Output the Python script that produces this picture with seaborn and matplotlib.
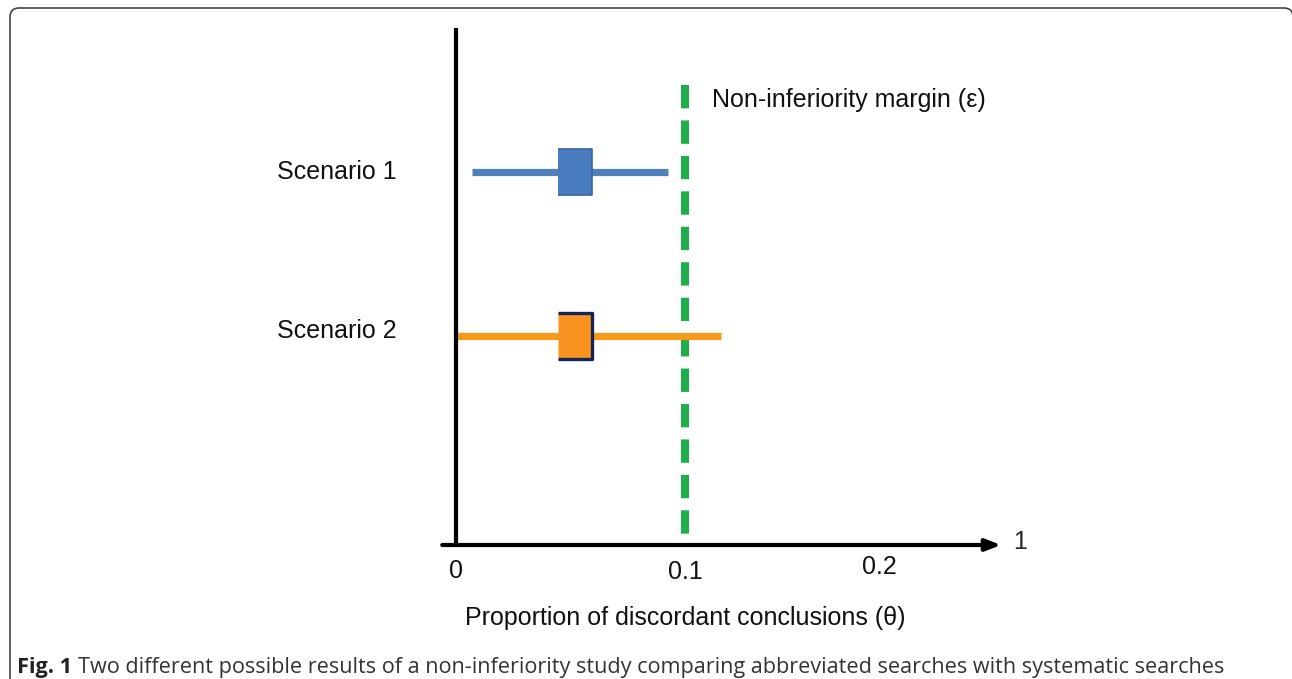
import numpy as np
import pandas as pd
import matplotlib
matplotlib.use("Agg")
import matplotlib.pyplot as plt
from matplotlib.patches import FancyBboxPatch
from matplotlib.transforms import IdentityTransform
import seaborn as sns

# data
scenarios = ["Scenario 1", "Scenario 2"]
estimates = [0.052, 0.052]
lower_ci = [0.007, -0.001]
upper_ci = [0.0926, 0.1157]
margin = 0.1
tick_pos = [0, 0.1, 0.185]
tick_labels = ["0", "0.1", "0.2"]
line_colors = ["#4f81bd", "#f79a1c"]
box_colors = ["#4a7cc0", "#f7931e"]
box_edges = ["#3a62a0", "#14245a"]

sns.set_style("white")
plt.rcParams["font.family"] = ["Liberation Sans", "DejaVu Sans"]

df = pd.DataFrame({"scenario": scenarios, "est": estimates,
                   "lo": lower_ci, "hi": upper_ci})
df["row"] = np.arange(len(df))

fig = plt.figure(figsize=(12.92, 6.79), dpi=100)
ax = fig.add_axes([0, 0, 1, 1])
# map data to pixel layout: x=0 at 456px, 2290px per unit; row 0 at 172px, 164px per row
ax.set_xlim((0 - 456) / 2290, (1292 - 456) / 2290)
ax.set_ylim((679 - 172) / 164, (0 - 172) / 164)
ax.axis("off")

def py(p):
    # pixel row -> data y
    return (p - 172) / 164

# confidence interval lines
ax.hlines(df["row"], df["lo"], df["hi"], colors=line_colors, linewidth=5.2, zorder=2)

# point estimates as rectangles
rect = [(-0.38, -0.5), (0.38, -0.5), (0.38, 0.5), (-0.38, 0.5)]
for i, r in df.iterrows():
    sns.scatterplot(x=[r["est"]], y=[r["row"]], marker=rect, s=33 ** 2,
                    color=box_colors[i], edgecolor=box_edges[i],
                    linewidth=1.2 if i == 0 else 2.4, ax=ax, zorder=3, legend=False)

# non-inferiority margin
ax.vlines(margin, py(85), py(545), colors="#1fae4b",
          linewidth=5.8, linestyles=(0, (2.9, 1.5)), zorder=1)
ax.text(0.1118, py(100), "Non-inferiority margin (ε)", fontsize=18,
        va="center", ha="left", color="#111111")

# axes drawn by hand
y_base = py(545)
ax.vlines(0, py(28), y_base, colors="black", linewidth=3, zorder=4)
ax.annotate("", xy=(0.238, y_base), xytext=(-0.006, y_base),
            arrowprops=dict(arrowstyle="-|>,head_length=0.9,head_width=0.35",
                            color="black", lw=3, shrinkA=0, shrinkB=0))
ax.text(0.2463, py(542), "1", fontsize=18, va="center", ha="center")
for p, lab, yy in zip(tick_pos, tick_labels, [571, 572, 567]):
    ax.text(p, py(yy), lab, fontsize=18, va="center", ha="center", color="#111111")

for i, r in df.iterrows():
    ax.text(-0.0258, r["row"] - (0.03 if i else 0), r["scenario"], fontsize=18,
            va="center", ha="right", color="#111111")

ax.text(0.1, py(618), "Proportion of discordant conclusions (θ)",
        fontsize=18, va="center", ha="center", color="#111111")

# caption: bold figure number then the description
cap_y = 1 - 668 / 679
t1 = fig.text(17 / 1292, cap_y, "Fig. 1 ", fontsize=15.6, fontweight="bold",
              family=["Open Sans", "DejaVu Sans"], va="center", ha="left", color="#222222")
fig.canvas.draw()
bb = t1.get_window_extent()
fig.text(bb.x1 / 1292, cap_y,
         "Two different possible results of a non-inferiority study comparing "
         "abbreviated searches with systematic searches",
         fontsize=15.6, family=["Open Sans", "DejaVu Sans"], va="center", ha="left",
         color="#333333")

# rounded frame around the figure, in pixels (right and bottom edges fall outside)
frame = FancyBboxPatch((10, -40), 1283, 679 - 8 + 40,
                       boxstyle="round,pad=0,rounding_size=9",
                       transform=IdentityTransform(), fill=False,
                       edgecolor="#444444", linewidth=1.2, clip_on=False)
fig.patches.append(frame)

fig.savefig("out.png", dpi=100)
